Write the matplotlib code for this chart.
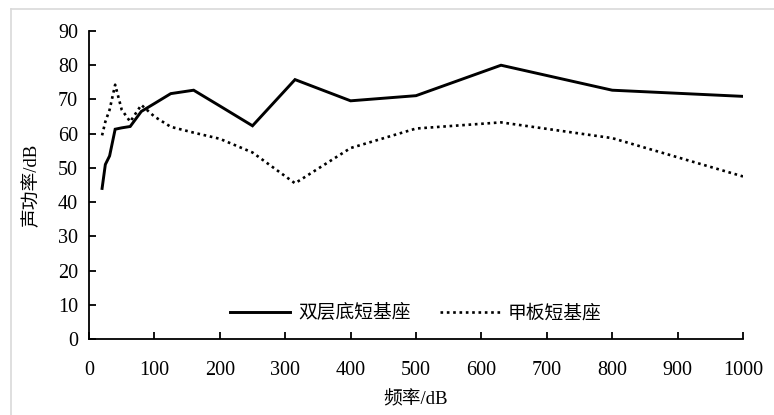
import matplotlib
matplotlib.use('Agg')
import matplotlib.pyplot as plt
from matplotlib.lines import Line2D

plt.rcParams['font.family'] = ['Liberation Serif', 'Noto Sans CJK SC']
plt.rcParams['font.size'] = 14.5

freq = [20, 25, 31.5, 40, 50, 63, 80, 100, 125, 160, 200, 250, 315, 400, 500, 630, 800, 1000]
double_bottom = [44, 51, 53.5, 61.3, 61.7, 62.1, 66.5, 68.8, 71.7, 72.7, 68.1, 62.3, 75.8, 69.6, 71.1, 80, 72.7, 70.9]
deck = [59.5, 63.5, 67, 74.3, 67, 63.5, 68.4, 65, 62, 60.3, 58.5, 54.5, 45.5, 55.8, 61.5, 63.3, 58.7, 47.5]
names = ['双层底短基座', '甲板短基座']

fig = plt.figure(figsize=(7.74, 4.15), dpi=100)
ax = fig.add_axes([89/774, 76/415, 654/774, 308/415])

ax.plot(freq, double_bottom, color='black', lw=2.1, solid_joinstyle='miter', label=names[0])
ax.plot(freq, deck, color='black', lw=1.9, linestyle=(0, (1, 1.4)), label=names[1])

ax.set_xlim(0, 1000)
ax.set_ylim(0, 90)
ax.set_xticks(range(0, 1001, 100))
ax.set_yticks(range(0, 91, 10))
for s in ['top', 'right']:
    ax.spines[s].set_visible(False)
for s in ['left', 'bottom']:
    ax.spines[s].set_linewidth(1.3)
ax.tick_params(direction='in', length=5, width=1.3, pad=8)
ax.tick_params(axis='x', pad=16)

ax.set_xlabel('频率/dB', fontsize=13.5, labelpad=8)
ax.set_ylabel('声功率/dB', fontsize=13.5, labelpad=12)

ax.legend(loc='lower center', bbox_to_anchor=(0.5, 0.0), ncol=2, frameon=False,
          fontsize=13.5, handlelength=3.2, columnspacing=1.6, handletextpad=0.4)

# grey frame of the chart area (top and left edges visible)
fig.add_artist(Line2D([11/774, 11/774], [0, 1 - 9/415], color='#d9d9d9', lw=1.2))
fig.add_artist(Line2D([11/774, 1], [1 - 9/415, 1 - 9/415], color='#d9d9d9', lw=1.2))

fig.savefig('out.png', dpi=100)
